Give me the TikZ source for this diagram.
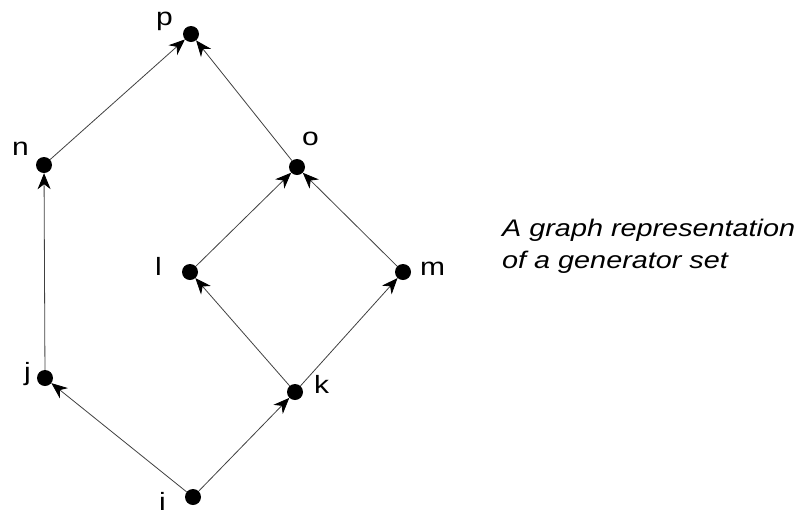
\documentclass[tikz,border=0pt]{standalone}
\usepackage{fontspec}
\setmainfont{Liberation Sans}[FakeStretch=1.2]
\usetikzlibrary{arrows.meta}
\begin{document}
\begin{tikzpicture}[x=1pt,y=-1pt,
  dot/.style={circle,fill=black,inner sep=0pt,minimum size=16pt},
  lbl/.style={anchor=base west,inner sep=0pt,font=\fontsize{25}{30}\selectfont},
  edge/.style={draw=black!75,line width=0.8pt,-{Stealth[length=16pt,width=13pt,inset=5pt,color=black]}}]
\useasboundingbox (0,0) rectangle (801,515);
\node[dot] (p) at (191,34) {};
\node[dot] (n) at (44,165) {};
\node[dot] (o) at (297,167) {};
\node[dot] (l) at (190,272) {};
\node[dot] (m) at (403,272) {};
\node[dot] (j) at (45,378) {};
\node[dot] (k) at (295,392) {};
\node[dot] (i) at (193,497) {};
\node[lbl] (lp) at (156,25) {p};
\node[lbl] (ln) at (12,155) {n};
\node[lbl] (lo) at (302,145) {o};
\node[lbl] (ll) at (155,275) {l};
\node[lbl] (lm) at (420,275) {m};
\node[lbl] (lj) at (24,380) {j};
\node[lbl] (lk) at (314,393) {k};
\node[lbl] (li) at (159,510) {i};
\draw[edge] (i) -- (j);
\draw[edge] (i) -- (k);
\draw[edge] (j) -- (n);
\draw[edge] (k) -- (l);
\draw[edge] (k) -- (m);
\draw[edge] (l) -- (o);
\draw[edge] (m) -- (o);
\draw[edge] (n) -- (p);
\draw[edge] (o) -- (p);
\node[anchor=base west,inner sep=0pt,align=left,font=\fontsize{24}{32}\selectfont\itshape] (cap) at (502,268) {A graph representation\\of a generator set};
\end{tikzpicture}
\end{document}
